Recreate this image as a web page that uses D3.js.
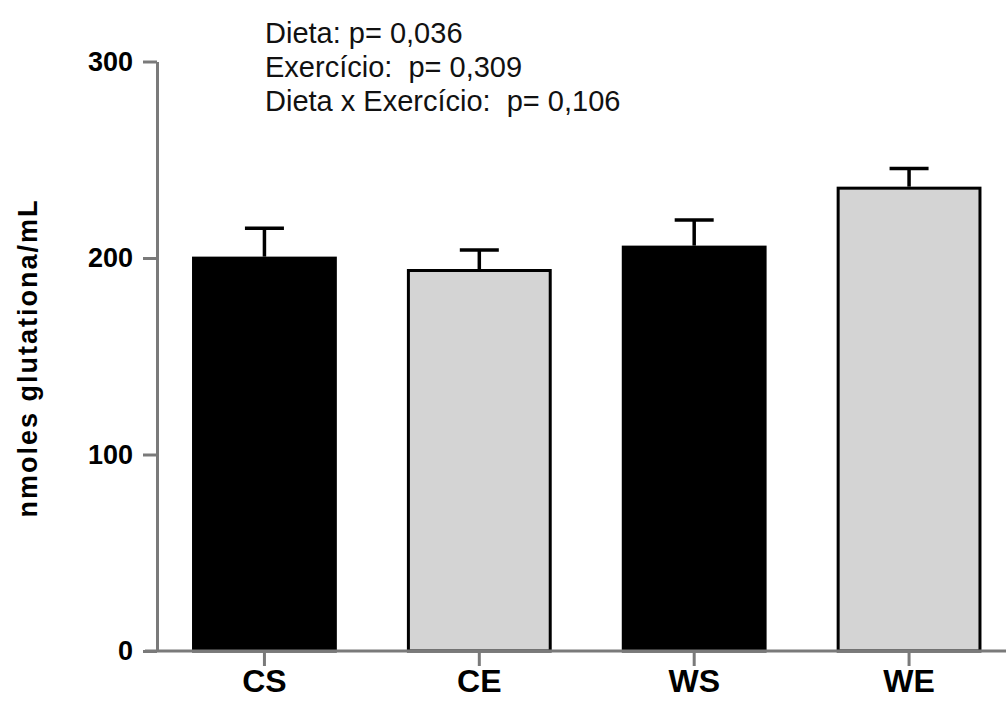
<!DOCTYPE html>
<html>
<head>
<meta charset="utf-8">
<script src="https://cdn.jsdelivr.net/npm/d3@7"></script>
<style>
  html, body { margin: 0; padding: 0; background: #fff; }
  svg { display: block; font-family: Arial, "Liberation Sans", sans-serif; }
</style>
</head>
<body>
<svg id="chart" width="1006" height="702"></svg>
<script>
const categories = ["CS", "CE", "WS", "WE"];
const means = [200.7, 194.4, 206.3, 236.3];
const sems = [14.4, 9.7, 13.0, 9.3];
const barColors = ["#000000", "#d4d4d4", "#000000", "#d4d4d4"];
const yTicks = [0, 100, 200, 300];
const yLabel = "nmoles glutationa/mL";
const statsLines = ["Dieta: p= 0,036", "Exercício:  p= 0,309", "Dieta x Exercício:  p= 0,106"];

const svg = d3.select("#chart");
const axisColor = "#7a7a7a";

const y = d3.scaleLinear().domain([0, 300]).range([651, 61.5]);
const x = d3.scaleBand().domain(categories).range([157, 1016.5])
  .paddingInner(0.326).paddingOuter(0.163);

const data = categories.map((c, i) => ({ c, m: means[i], s: sems[i], col: barColors[i] }));

// error bars
const capW = 39;
const eb = svg.append("g");
eb.selectAll("line.v").data(data).join("line")
  .attr("x1", d => x(d.c) + x.bandwidth() / 2)
  .attr("x2", d => x(d.c) + x.bandwidth() / 2)
  .attr("y1", d => y(d.m))
  .attr("y2", d => y(d.m + d.s))
  .attr("stroke", "#000").attr("stroke-width", 3.5);
eb.selectAll("line.h").data(data).join("line")
  .attr("x1", d => x(d.c) + x.bandwidth() / 2 - capW / 2)
  .attr("x2", d => x(d.c) + x.bandwidth() / 2 + capW / 2)
  .attr("y1", d => y(d.m + d.s))
  .attr("y2", d => y(d.m + d.s))
  .attr("stroke", "#000").attr("stroke-width", 3.5);

// bars
svg.append("g").selectAll("rect").data(data).join("rect")
  .attr("x", d => x(d.c) + 1.5)
  .attr("width", x.bandwidth() - 3)
  .attr("y", d => y(d.m) + 1.5)
  .attr("height", d => y(0) - y(d.m) - 1.5)
  .attr("fill", d => d.col)
  .attr("stroke", "#000")
  .attr("stroke-width", 3);

// y axis
const yAxis = svg.append("g").attr("transform", "translate(157,0)")
  .call(d3.axisLeft(y).tickValues(yTicks).tickSize(14).tickSizeOuter(0).tickPadding(10));
yAxis.select(".domain").attr("stroke", axisColor).attr("stroke-width", 3);
yAxis.selectAll(".tick line").attr("stroke", axisColor).attr("stroke-width", 3);
yAxis.selectAll(".tick text")
  .attr("fill", "#000").attr("font-size", 27).attr("font-weight", "bold")
  .attr("font-family", "Arial, 'Liberation Sans', sans-serif");

// x axis
const xAxis = svg.append("g").attr("transform", "translate(0,651)")
  .call(d3.axisBottom(x).tickSize(15).tickSizeOuter(0).tickPadding(3));
xAxis.select(".domain").remove();
xAxis.selectAll(".tick line").attr("stroke", axisColor).attr("stroke-width", 3);
xAxis.selectAll(".tick text")
  .attr("fill", "#000").attr("font-size", 32).attr("font-weight", "bold")
  .attr("font-family", "Arial, 'Liberation Sans', sans-serif");
svg.append("line")
  .attr("x1", 145).attr("x2", 1006)
  .attr("y1", y(0)).attr("y2", y(0))
  .attr("stroke", axisColor).attr("stroke-width", 3);

// y label
svg.append("text")
  .attr("transform", "translate(37,358) rotate(-90)")
  .attr("text-anchor", "middle")
  .attr("font-size", 27).attr("font-weight", "bold")
  .attr("letter-spacing", 2)
  .attr("fill", "#000")
  .text(yLabel);

// statistics text
svg.append("g").selectAll("text").data(statsLines).join("text")
  .attr("x", 265)
  .attr("y", (d, i) => 43 + i * 34)
  .attr("font-size", 29)
  .attr("fill", "#111")
  .style("white-space", "pre")
  .attr("xml:space", "preserve")
  .text(d => d);
</script>
</body>
</html>
